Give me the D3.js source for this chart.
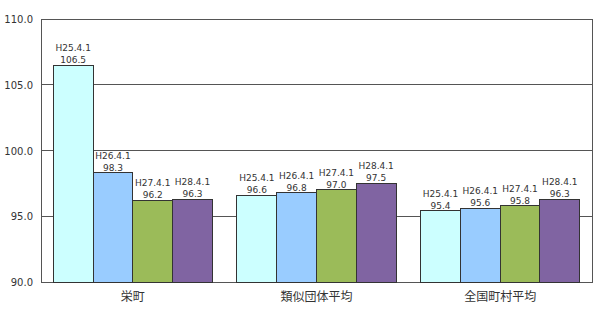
<html lang="ja">
<head>
<meta charset="utf-8">
<title>Chart</title>
<style>
  body { margin: 0; background: white; }
  text { font-family: "DejaVu Sans", "Noto Sans CJK JP", sans-serif; fill: #333; }
  .val text { font-size: 9px; }
  .cat { font-size: 12px; font-family: "Noto Sans CJK JP", sans-serif; }
</style>
</head>
<body>
<div id="chart"></div>
<script src="https://d3js.org/d3.v7.min.js"></script>
<script>
var categories = ["栄町", "類似団体平均", "全国町村平均"];
var series = ["H25.4.1", "H26.4.1", "H27.4.1", "H28.4.1"];
var values = [
  [106.5, 98.3, 96.2, 96.3],
  [96.6, 96.8, 97.0, 97.5],
  [95.4, 95.6, 95.8, 96.3]
];
var colors = ["#ccffff", "#99ccff", "#9bbb59", "#8064a2"];
var ticks = [90, 95, 100, 105, 110];

var width = 600, height = 311;
var plotL = 41, plotR = 592, plotT = 19, plotB = 282;

var svg = d3.select("#chart").append("svg")
  .attr("width", width).attr("height", height);

var y = d3.scaleLinear().domain([90, 110]).range([plotB, plotT]);
var x0 = d3.scaleBand().domain(categories).range([plotL, plotR]).paddingInner(0.134).paddingOuter(0.067);
var x1 = d3.scaleBand().domain(series).range([0, x0.bandwidth()]);

// gridlines
svg.append("g").selectAll("line")
  .data(ticks)
  .enter().append("line")
  .attr("x1", plotL).attr("x2", plotR)
  .attr("y1", function(d){ return y(d); })
  .attr("y2", function(d){ return y(d); })
  .attr("stroke", "#555").attr("stroke-width", 1)
  .attr("shape-rendering", "crispEdges");

// frame
svg.append("rect")
  .attr("x", plotL).attr("y", plotT)
  .attr("width", plotR - plotL).attr("height", plotB - plotT)
  .attr("fill", "none").attr("stroke", "#555")
  .attr("shape-rendering", "crispEdges");

// y labels
svg.append("g").selectAll("text")
  .data(ticks)
  .enter().append("text")
  .attr("x", 33).attr("y", function(d){ return y(d) + 4; })
  .attr("text-anchor", "end")
  .style("font-size", "10px")
  .text(function(d){ return d3.format(".1f")(d); });

var groups = svg.selectAll(".grp")
  .data(values)
  .enter().append("g")
  .attr("class", "grp val")
  .attr("transform", function(d, i){ return "translate(" + x0(categories[i]) + ",0)"; });

groups.selectAll("rect")
  .data(function(d){ return d; })
  .enter().append("rect")
  .attr("x", function(d, i){ return x1(series[i]); })
  .attr("y", function(d){ return y(d); })
  .attr("width", x1.bandwidth())
  .attr("height", function(d){ return plotB - y(d); })
  .attr("fill", function(d, i){ return colors[i]; })
  .attr("stroke", "#333").attr("stroke-width", 1)
  .attr("shape-rendering", "crispEdges");

groups.selectAll("text.s")
  .data(function(d){ return d; })
  .enter().append("text")
  .attr("class", "s")
  .attr("x", function(d, i){ return x1(series[i]) + x1.bandwidth() / 2; })
  .attr("y", function(d){ return y(d) - 14; })
  .attr("text-anchor", "middle")
  .text(function(d, i){ return series[i]; });

groups.selectAll("text.v")
  .data(function(d){ return d; })
  .enter().append("text")
  .attr("class", "v")
  .attr("x", function(d, i){ return x1(series[i]) + x1.bandwidth() / 2; })
  .attr("y", function(d){ return y(d) - 2; })
  .attr("text-anchor", "middle")
  .text(function(d){ return d3.format(".1f")(d); });

svg.append("g").selectAll("text")
  .data(categories)
  .enter().append("text")
  .attr("class", "cat")
  .attr("x", function(d){ return x0(d) + x0.bandwidth() / 2; })
  .attr("y", 301)
  .attr("text-anchor", "middle")
  .text(function(d){ return d; });
</script>
</body>
</html>
